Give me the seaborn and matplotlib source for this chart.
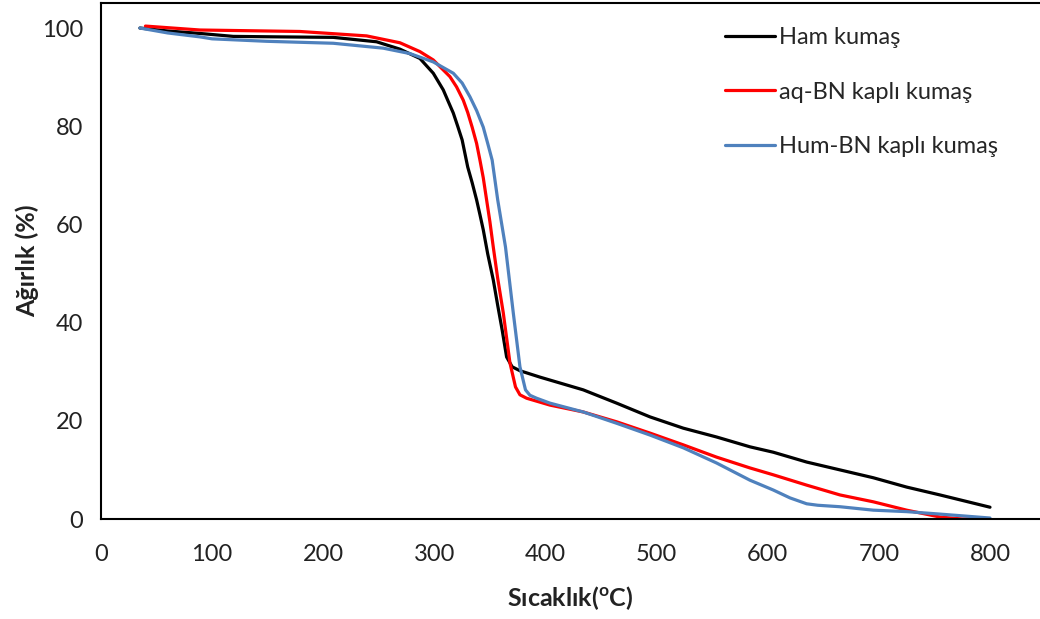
import matplotlib
matplotlib.use("Agg")
import matplotlib.pyplot as plt
import seaborn as sns
import pandas as pd

# ---- data ----
ham_T = [35, 60, 89, 119, 160, 209, 248, 269, 287, 299, 308, 312, 317, 321, 325, 330,
         334, 338, 341, 344, 348, 353, 357, 361, 365, 370, 377, 395, 413, 434, 464, 494,
         524, 554, 584, 605, 635, 665, 695, 725, 755, 800]
ham_W = [100, 99.4, 98.9, 98.3, 98.2, 98.1, 97.2, 95.7, 93.8, 90.8, 87.4, 85.3, 82.7,
         80, 77.2, 71.7, 68.5, 65, 62, 58.9, 54, 48.7, 43.5, 38.5, 33, 31, 30.2, 28.9,
         27.7, 26.3, 23.6, 20.8, 18.5, 16.7, 14.7, 13.6, 11.6, 10, 8.4, 6.5, 4.9, 2.4]

aq_T = [40, 89, 179, 239, 269, 287, 299, 314, 320, 326, 330, 334, 338, 341, 344, 347,
        350, 353, 357, 362, 368, 373, 377, 383, 404, 434, 464, 494, 524, 554, 584, 605,
        635, 665, 695, 725, 755, 775, 800]
aq_W = [100.4, 99.6, 99.3, 98.4, 97, 95.2, 93.5, 90.1, 88, 85.3, 82.8, 79.8, 76.5,
        73.1, 69.5, 65, 60.5, 55.4, 49, 42, 31.8, 26.9, 25.3, 24.6, 23.2, 21.8, 19.8,
        17.5, 15.1, 12.6, 10.4, 9, 6.9, 4.9, 3.5, 1.8, 0.4, 0, 0]

hum_T = [35, 60, 89, 100, 149, 209, 254, 278, 299, 317, 325, 332, 338, 344, 348, 352,
         357, 364, 371, 377, 382, 386, 392, 404, 434, 464, 494, 524, 554, 584, 605, 620,
         635, 645, 665, 695, 725, 755, 800]
hum_W = [100, 99, 98.2, 97.8, 97.3, 96.9, 95.9, 94.8, 93.1, 90.8, 88.8, 86, 83.2, 79.8,
         76.5, 73.1, 65, 55.4, 42, 31, 26.3, 25.2, 24.6, 23.6, 21.8, 19.5, 17.1, 14.5,
         11.4, 7.9, 5.9, 4.3, 3.1, 2.8, 2.5, 1.8, 1.5, 1, 0.2]

series_names = ["Ham kumaş", "aq-BN kaplı kumaş", "Hum-BN kaplı kumaş"]
series_colors = ["#000000", "#FF0000", "#4F81BD"]
x_ticks = [0, 100, 200, 300, 400, 500, 600, 700, 800]
y_ticks = [0, 20, 40, 60, 80, 100]

frames = []
for name, T, W in zip(series_names, [ham_T, aq_T, hum_T], [ham_W, aq_W, hum_W]):
    frames.append(pd.DataFrame({"T": T, "W": W, "seri": name}))
df = pd.concat(frames, ignore_index=True)

sns.set_style("white")
plt.rcParams["font.family"] = ["Lato", "DejaVu Sans"]
plt.rcParams["mathtext.fontset"] = "custom"
plt.rcParams["mathtext.rm"] = "Lato"
plt.rcParams["mathtext.bf"] = "Lato:bold"

fig = plt.figure(figsize=(10.4, 6.19), dpi=100)
ax = fig.add_axes([101 / 1040, 1 - 519 / 619, 1 - 101 / 1040, (519 - 3) / 619])

sns.lineplot(data=df, x="T", y="W", hue="seri", hue_order=series_names,
             palette=dict(zip(series_names, series_colors)), sort=False,
             estimator=None, linewidth=2.3, ax=ax)

ax.set_xlim(0, 845)
ax.set_ylim(0, 105.1)
ax.set_xticks(x_ticks)
ax.set_yticks(y_ticks)
ax.tick_params(axis="both", labelsize=17, colors="#222222", direction="out",
               length=6, width=1.3, pad=7)
ax.tick_params(axis="x", pad=12)
for s in ["left", "bottom", "top"]:
    ax.spines[s].set_color("black")
    ax.spines[s].set_linewidth(1.5)
ax.spines["right"].set_visible(False)

ax.set_xlabel(r"Sıcaklık($^{\mathbf{o}}$C)", fontsize=18, fontweight="bold",
              color="#222222", labelpad=14)
ax.set_ylabel("Ağırlık (%)", fontsize=18, fontweight="bold", color="#222222",
              labelpad=2)

ax.legend(loc="upper left", bbox_to_anchor=(725 / 1040, 1 - 27 / 619),
          bbox_transform=fig.transFigure, frameon=False, fontsize=17,
          handlelength=2.1, handletextpad=0.2, labelspacing=1.42, borderpad=0,
          borderaxespad=0, title=None)

fig.savefig("out.png", dpi=100)
